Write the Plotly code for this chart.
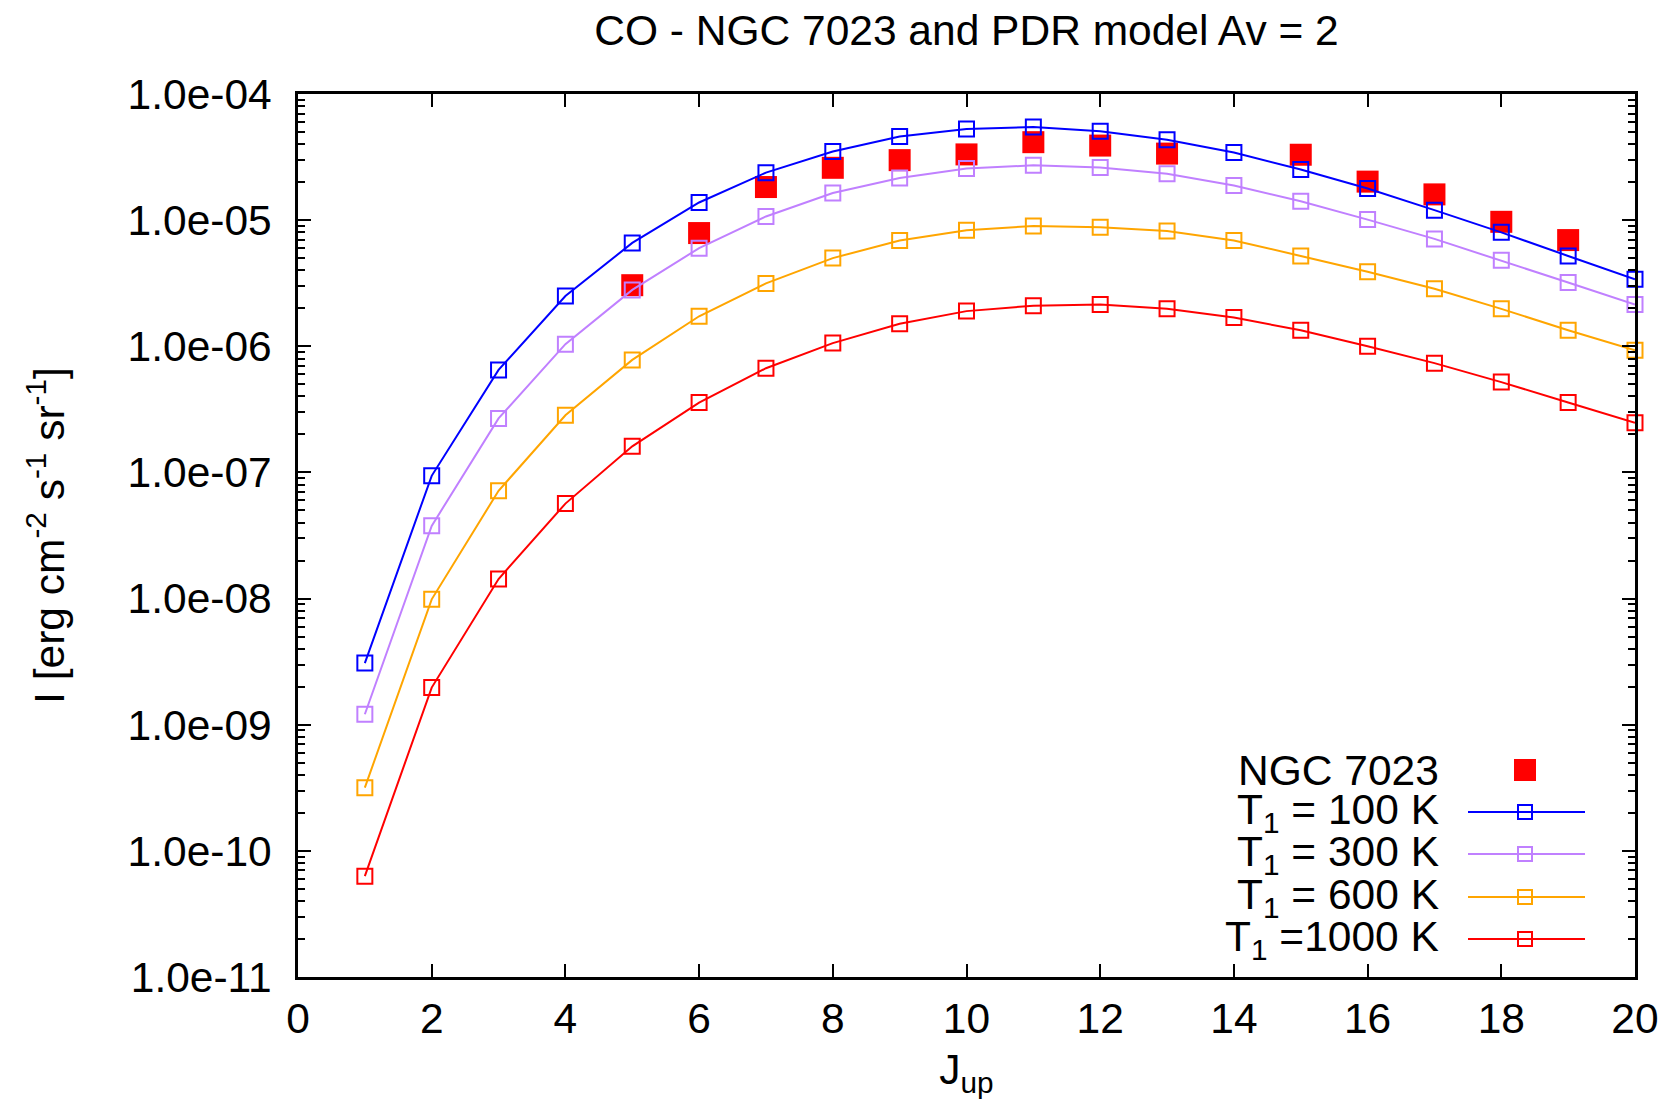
import plotly.graph_objects as go

# ---- data ----
j_model = list(range(1, 21))
t100 = [3.08e-9, 9.4e-8, 6.5e-7, 2.5e-6, 6.6e-6, 1.38e-5, 2.38e-5, 3.5e-5, 4.6e-5, 5.27e-5,
        5.48e-5, 5.07e-5, 4.34e-5, 3.44e-5, 2.52e-5, 1.78e-5, 1.2e-5, 8.0e-6, 5.2e-6, 3.4e-6]
t300 = [1.21e-9, 3.77e-8, 2.68e-7, 1.04e-6, 2.8e-6, 6.0e-6, 1.07e-5, 1.64e-5, 2.16e-5, 2.57e-5,
        2.72e-5, 2.62e-5, 2.33e-5, 1.88e-5, 1.41e-5, 1.01e-5, 7.1e-6, 4.8e-6, 3.2e-6, 2.14e-6]
t600 = [3.17e-10, 9.86e-9, 7.15e-8, 2.84e-7, 7.8e-7, 1.73e-6, 3.15e-6, 5.0e-6, 6.9e-6, 8.3e-6,
        9.0e-6, 8.8e-6, 8.2e-6, 6.9e-6, 5.2e-6, 3.9e-6, 2.86e-6, 1.98e-6, 1.34e-6, 9.3e-7]
t1000 = [6.3e-11, 1.97e-9, 1.43e-8, 5.66e-8, 1.61e-7, 3.58e-7, 6.7e-7, 1.06e-6, 1.51e-6, 1.9e-6,
         2.1e-6, 2.14e-6, 1.98e-6, 1.69e-6, 1.34e-6, 1.0e-6, 7.35e-7, 5.2e-7, 3.58e-7, 2.48e-7]

j_obs = [5, 6, 7, 8, 9, 10, 11, 12, 13, 15, 16, 17, 18, 19]
ngc7023 = [3.05e-6, 7.9e-6, 1.83e-5, 2.6e-5, 2.99e-5, 3.32e-5, 4.15e-5, 3.9e-5, 3.37e-5,
           3.3e-5, 2.02e-5, 1.6e-5, 9.7e-6, 6.95e-6]

x_ticks = [0, 2, 4, 6, 8, 10, 12, 14, 16, 18, 20]
y_ticks = [1e-11, 1e-10, 1e-9, 1e-8, 1e-7, 1e-6, 1e-5, 1e-4]
y_ticktext = ["1.0e-11", "1.0e-10", "1.0e-09", "1.0e-08", "1.0e-07", "1.0e-06", "1.0e-05", "1.0e-04"]

series_names = ["T<sub>1</sub> = 100 K", "T<sub>1</sub> = 300 K", "T<sub>1</sub> = 600 K", "T<sub>1</sub> =1000 K"]
series_vals = [t100, t300, t600, t1000]
series_colors = ["#0000ff", "#c080ff", "#ffa500", "#ff0000"]

FONT = "Liberation Sans, Arial, Helvetica, sans-serif"
FS = 42.5

# page has an 8px body margin; figure sized so the plot sits at the reference position
FIG_W, FIG_H = 1652, 1094
OFF = 8
L, R, T, B = 298, 1635, 94, 977   # plot area in page pixels

fig = go.Figure()
fig.add_trace(go.Scatter(x=j_obs, y=ngc7023, mode="markers", name="NGC 7023",
                         marker=dict(symbol="square", size=22, color="#ff0000", line=dict(width=0)),
                         cliponaxis=False, showlegend=False))
for name, vals, col in zip(series_names, series_vals, series_colors):
    fig.add_trace(go.Scatter(x=j_model, y=vals, mode="lines+markers", name=name,
                             line=dict(color=col, width=2),
                             marker=dict(symbol="square-open", size=15, color=col, line=dict(width=2, color=col)),
                             cliponaxis=False, showlegend=False))

# minor tick positions for the log axis (2..9 per decade)
minor_vals = [m * d for d in y_ticks[:-1] for m in range(2, 10)]

fig.update_layout(
    width=FIG_W, height=FIG_H,
    margin=dict(l=L - OFF, r=OFF + FIG_W - R, t=T - OFF, b=OFF + FIG_H - B, autoexpand=False),
    paper_bgcolor="white", plot_bgcolor="white",
    font=dict(family=FONT, size=FS, color="black"),
    title=dict(text="CO - NGC 7023 and PDR model Av = 2", x=0.5, xref="paper", xanchor="center",
               y=1 - (30 - OFF) / FIG_H, yref="container", yanchor="middle", font=dict(size=FS, family=FONT)),
    xaxis=dict(range=[0, 20], tickmode="array", tickvals=x_ticks, ticks="inside", ticklen=13, tickwidth=2,
               tickcolor="black", showline=True, linecolor="black", linewidth=2.5, mirror="ticks",
               showgrid=False, zeroline=False, ticklabelstandoff=2, automargin=False,
               title=dict(text="J<sub>up</sub>", standoff=14, font=dict(size=FS))),
    yaxis=dict(type="log", range=[-11, -4], tickmode="array", tickvals=y_ticks, ticktext=y_ticktext,
               ticks="inside", ticklen=13, tickwidth=2, tickcolor="black",
               minor=dict(tickmode="array", tickvals=minor_vals, ticks="inside", ticklen=7, tickwidth=2,
                          tickcolor="black", showgrid=False),
               showline=True, linecolor="black", linewidth=2.5, mirror="ticks",
               showgrid=False, zeroline=False, ticklabelstandoff=15, automargin=False,
               title=dict(text="I [erg cm<sup>-2</sup> s<sup>-1</sup> sr<sup>-1</sup>]", standoff=50,
                          font=dict(size=FS))),
)

# ---- gnuplot-style key (bottom right): label right-aligned, sample to the right ----
def px(xp):
    return (xp - L) / (R - L)
def py(yp):
    return 1 - (yp - T) / (B - T)

key_rows = [770, 812, 854, 897, 939]
key_labels = ["NGC 7023"] + series_names
key_cols = [None] + series_colors
text_right = 1441
line_x0, line_x1, mark_x = 1468, 1585, 1525

for yrow, lab, col in zip(key_rows, key_labels, key_cols):
    fig.add_annotation(x=px(text_right), y=py(yrow), xref="paper", yref="paper", text=lab,
                       showarrow=False, xanchor="right", yanchor="middle",
                       font=dict(size=FS, family=FONT, color="black"))
    if col is None:
        fig.add_shape(type="rect", xref="paper", yref="paper", xsizemode="pixel", ysizemode="pixel",
                      xanchor=px(mark_x), yanchor=py(yrow), x0=-11, x1=11, y0=-11, y1=11,
                      fillcolor="#ff0000", line=dict(width=0))
    else:
        fig.add_shape(type="line", xref="paper", yref="paper", x0=px(line_x0), x1=px(line_x1),
                      y0=py(yrow), y1=py(yrow), line=dict(color=col, width=2))
        fig.add_shape(type="rect", xref="paper", yref="paper", xsizemode="pixel", ysizemode="pixel",
                      xanchor=px(mark_x), yanchor=py(yrow), x0=-7, x1=7, y0=-7, y1=7,
                      fillcolor="rgba(0,0,0,0)", line=dict(color=col, width=2))

fig.write_html("out.html")
